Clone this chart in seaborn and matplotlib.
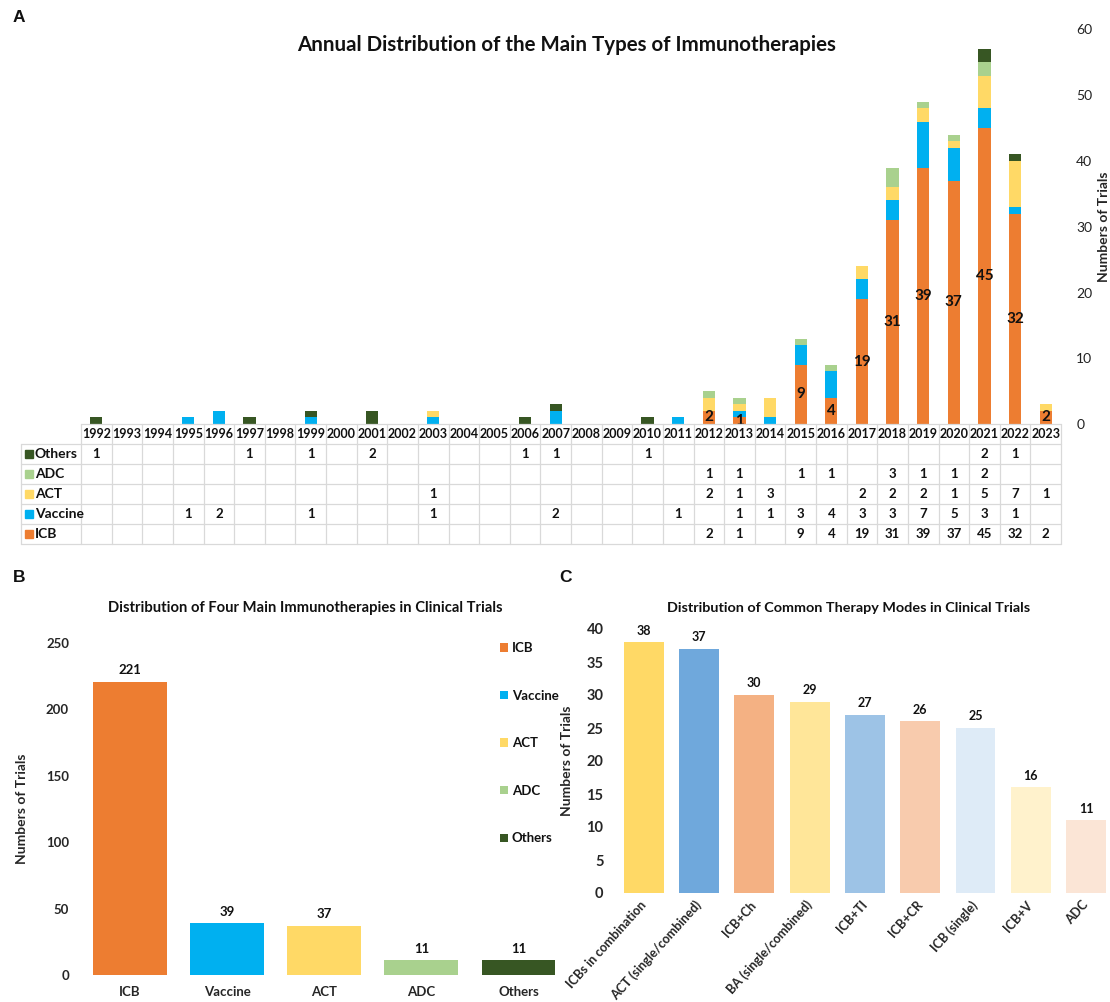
import numpy as np
import pandas as pd
import matplotlib
matplotlib.use("Agg")
import matplotlib.pyplot as plt
from matplotlib.patches import Patch
import seaborn as sns

# ---------------- data ----------------
years = [1992, 1993, 1994, 1995, 1996, 1997, 1998, 1999, 2000, 2001, 2002,
         2003, 2004, 2005, 2006, 2007, 2008, 2009, 2010, 2011, 2012, 2013,
         2014, 2015, 2016, 2017, 2018, 2019, 2020, 2021, 2022, 2023]
others  = [1, 0, 0, 0, 0, 1, 0, 1, 0, 2, 0, 0, 0, 0, 1, 1, 0, 0, 1, 0, 0, 0, 0, 0, 0, 0, 0, 0, 0, 2, 1, 0]
adc     = [0, 0, 0, 0, 0, 0, 0, 0, 0, 0, 0, 0, 0, 0, 0, 0, 0, 0, 0, 0, 1, 1, 0, 1, 1, 0, 3, 1, 1, 2, 0, 0]
act     = [0, 0, 0, 0, 0, 0, 0, 0, 0, 0, 0, 1, 0, 0, 0, 0, 0, 0, 0, 0, 2, 1, 3, 0, 0, 2, 2, 2, 1, 5, 7, 1]
vaccine = [0, 0, 0, 1, 2, 0, 0, 1, 0, 0, 0, 1, 0, 0, 0, 2, 0, 0, 0, 1, 0, 1, 1, 3, 4, 3, 3, 7, 5, 3, 1, 0]
icb     = [0, 0, 0, 0, 0, 0, 0, 0, 0, 0, 0, 0, 0, 0, 0, 0, 0, 0, 0, 0, 2, 1, 0, 9, 4, 19, 31, 39, 37, 45, 32, 2]

types_b = ["ICB", "Vaccine", "ACT", "ADC", "Others"]
totals_b = [221, 39, 37, 11, 11]

modes_c = ["ICBs in combination", "ACT (single/combined)", "ICB+Ch", "BA (single/combined)",
           "ICB+TI", "ICB+CR", "ICB (single)", "ICB+V", "ADC"]
counts_c = [38, 37, 30, 29, 27, 26, 25, 16, 11]

type_colors = {"ICB": "#ED7D31", "Vaccine": "#00B0F0", "ACT": "#FFD966",
               "ADC": "#A9D18E", "Others": "#375623"}
colors_c = ["#FFD966", "#6FA8DC", "#F4B183", "#FFE699", "#9DC3E6",
            "#F8CBAD", "#DEEBF7", "#FFF2CC", "#FBE5D6"]

# ---------------- style ----------------
sns.set_theme(style="white")
plt.rcParams['font.family'] = ['Lato', 'DejaVu Sans']
plt.rcParams['text.color'] = '#111111'

W, H = 1110, 1002
fig = plt.figure(figsize=(W / 100, H / 100), dpi=100)


def rect(l, t, r, b):
    return [l / W, 1 - b / H, (r - l) / W, (b - t) / H]


def fxy(x, y):
    return x / W, 1 - y / H


# ---------------- Panel A ----------------
year_labels = [str(y) for y in years]
axA = fig.add_axes(rect(81, 29.5, 1061, 424))
bottom = np.zeros(len(years))
for name, vals in [("ICB", icb), ("Vaccine", vaccine), ("ACT", act),
                   ("ADC", adc), ("Others", others)]:
    sns.barplot(x=year_labels, y=vals, order=year_labels, color=type_colors[name],
                saturation=1, width=0.4, errorbar=None, bottom=bottom.copy(),
                ax=axA, linewidth=0)
    bottom = bottom + np.array(vals)

axA.bar_label(axA.containers[0], labels=[str(v) if v > 0 else "" for v in icb],
              label_type="center", fontsize=11, fontweight="bold", color="#111111")
axA.set_xlim(-0.5, len(years) - 0.5)
axA.set_ylim(0, 60)
axA.set_yticks(range(0, 61, 10))
axA.yaxis.tick_right()
axA.yaxis.set_label_position("right")
axA.set_xticks([])
axA.set_xlabel("")
axA.set_ylabel("Numbers of Trials", fontsize=10, fontweight="bold")
axA.yaxis.set_label_coords(1.038, 0.5)
axA.tick_params(axis="y", length=0, pad=11, labelsize=10, labelcolor="#222222")
for s in axA.spines.values():
    s.set_visible(False)

# table
tax = fig.add_axes(rect(81, 424, 1061, 544))
tax.set_xlim(-0.5, len(years) - 0.5)
tax.set_ylim(6, 0)
tax.axis("off")
grid_c = "#D9D9D9"
xl = -0.5 - 60 / 30.625
tax.plot([-0.5, len(years) - 0.5], [0, 0], color=grid_c, lw=0.9, clip_on=False)
for r in range(1, 7):
    tax.plot([xl, len(years) - 0.5], [r, r], color=grid_c, lw=0.9, clip_on=False)
for k in range(len(years) + 1):
    tax.plot([-0.5 + k, -0.5 + k], [0, 6], color=grid_c, lw=0.9, clip_on=False)
tax.plot([xl, xl], [1, 6], color=grid_c, lw=0.9, clip_on=False)

for i, y in enumerate(year_labels):
    tax.text(i, 0.5, y, ha="center", va="center", fontsize=9, fontweight="bold")

rows = [("Others", others), ("ADC", adc), ("ACT", act), ("Vaccine", vaccine), ("ICB", icb)]
for r, (name, vals) in enumerate(rows):
    yc = r + 1.5
    tax.plot([-0.5 + (29 - 81) / 30.625], [yc], marker="s", ms=5.5,
             color=type_colors[name], clip_on=False, lw=0)
    tax.text(-0.5 + (35 - 81) / 30.625, yc, name, ha="left", va="center",
             fontsize=10, fontweight="bold", clip_on=False)
    for i, v in enumerate(vals):
        if v > 0:
            tax.text(i, yc, str(v), ha="center", va="center", fontsize=9.5, fontweight="bold")

fig.text(*fxy(567, 45), "Annual Distribution of the Main Types of Immunotherapies",
         ha="center", va="center", fontsize=14.8, fontweight="bold")

# ---------------- Panel B ----------------
axB = fig.add_axes(rect(81.5, 643, 567, 975))
sns.barplot(x=types_b, y=totals_b, hue=types_b, order=types_b, hue_order=types_b,
            palette=[type_colors[t] for t in types_b], saturation=1, width=0.76,
            legend=False, errorbar=None, ax=axB, linewidth=0)
for c in axB.containers:
    axB.bar_label(c, padding=4, fontsize=9.5, fontweight="bold")
axB.set_ylim(0, 250)
axB.set_yticks(range(0, 251, 50))
axB.set_xlim(-0.5, 4.5)
axB.set_xlabel("")
axB.set_ylabel("Numbers of Trials", fontsize=10, fontweight="bold")
axB.yaxis.set_label_coords(-0.11, 0.5)
axB.tick_params(axis="both", length=0, labelsize=9.5)
axB.tick_params(axis="y", pad=9)
axB.tick_params(axis="x", pad=8)
for lab in axB.get_xticklabels() + axB.get_yticklabels():
    lab.set_fontweight("bold")
for s in axB.spines.values():
    s.set_visible(False)

handles = [Patch(facecolor=type_colors[t], edgecolor="none") for t in types_b]
fig.legend(handles, types_b, loc="upper left", bbox_to_anchor=fxy(500, 642),
           frameon=False, handlelength=0.6, handleheight=0.6, handletextpad=0.3,
           labelspacing=2.7, borderpad=0, borderaxespad=0,
           prop={"weight": "bold", "size": 9.5})

fig.text(*fxy(305, 608), "Distribution of Four Main Immunotherapies in Clinical Trials",
         ha="center", va="center", fontsize=10.6, fontweight="bold")

# ---------------- Panel C ----------------
axC = fig.add_axes(rect(616, 629, 1110, 893))
sns.barplot(x=modes_c, y=counts_c, hue=modes_c, order=modes_c, hue_order=modes_c,
            palette=colors_c, saturation=1, width=0.72, legend=False,
            errorbar=None, ax=axC, linewidth=0)
for c in axC.containers:
    axC.bar_label(c, padding=4, fontsize=9, fontweight="bold")
axC.set_ylim(0, 40)
axC.set_yticks(range(0, 41, 5))
axC.set_xlim(-0.5, 8.43)
axC.set_xlabel("")
axC.set_ylabel("Numbers of Trials", fontsize=10, fontweight="bold")
axC.yaxis.set_label_coords(-0.087, 0.5)
axC.tick_params(axis="both", length=0)
axC.tick_params(axis="y", pad=9, labelsize=10.5)
axC.tick_params(axis="x", pad=7, labelsize=9.1)
for lab in axC.get_yticklabels():
    lab.set_fontweight("bold")
for lab in axC.get_xticklabels():
    lab.set_fontweight("bold")
    lab.set_rotation(48)
    lab.set_ha("right")
    lab.set_va("center")
    lab.set_rotation_mode("anchor")
for s in axC.spines.values():
    s.set_visible(False)

fig.text(*fxy(849, 608), "Distribution of Common Therapy Modes in Clinical Trials",
         ha="center", va="center", fontsize=10.4, fontweight="bold")

# panel letters
for letter, (x, y) in {"A": (19, 18), "B": (19, 578), "C": (565, 578)}.items():
    fig.text(*fxy(x, y), letter, ha="center", va="center", fontsize=12.5,
             fontweight="bold", family=["Liberation Sans", "DejaVu Sans"])

fig.savefig("out.png", dpi=100)
